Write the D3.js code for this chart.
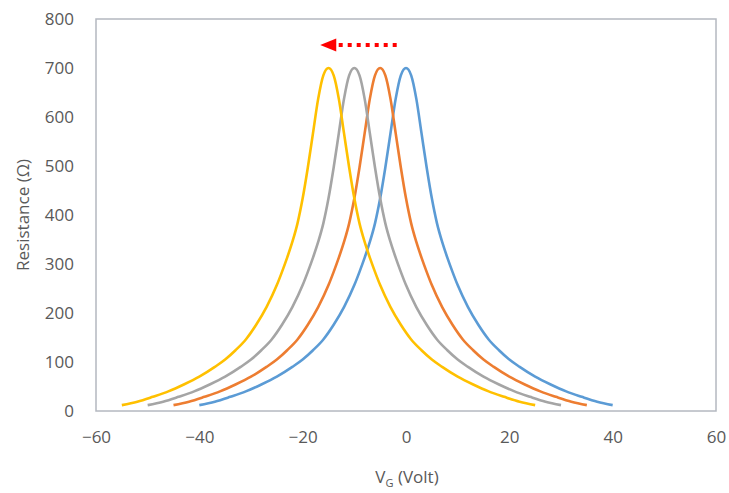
<!DOCTYPE html>
<html>
<head>
<meta charset="utf-8">
<script src="https://cdn.jsdelivr.net/npm/d3@7"></script>
<style>
  html, body { margin: 0; padding: 0; background: #fff; }
  svg { display: block; }
  text { font-family: "Open Sans", "Noto Sans", sans-serif; fill: #595959; }
</style>
</head>
<body>
<svg id="chart" width="729" height="493"></svg>
<script>
// ---- Data ----
const xTicks = [-60, -40, -20, 0, 20, 40, 60];
const yTicks = [0, 100, 200, 300, 400, 500, 600, 700, 800];

// Resistance (Ω) at each sampled gate voltage (same shape for each curve)
const resistance = [12, 19, 29, 40, 54, 70, 90, 105, 124, 146, 176, 212, 257, 284, 313, 345, 383, 434, 497, 567, 637, 685,
                    700,
                    685, 637, 567, 497, 434, 383, 345, 313, 284, 257, 212, 176, 146, 124, 105, 90, 70, 54, 40, 29, 19, 12];

// Gate voltage samples for each curve (Dirac point at 0, -5, -10, -15 V)
const vgBlue   = [-40, -37, -34, -31, -28, -25, -22, -20, -18, -16, -14, -12, -10, -9, -8, -7, -6, -5, -4, -3, -2, -1,
                  0, 1, 2, 3, 4, 5, 6, 7, 8, 9, 10, 12, 14, 16, 18, 20, 22, 25, 28, 31, 34, 37, 40];
const vgOrange = [-45, -42, -39, -36, -33, -30, -27, -25, -23, -21, -19, -17, -15, -14, -13, -12, -11, -10, -9, -8, -7, -6,
                  -5, -4, -3, -2, -1, 0, 1, 2, 3, 4, 5, 7, 9, 11, 13, 15, 17, 20, 23, 26, 29, 32, 35];
const vgGray   = [-50, -47, -44, -41, -38, -35, -32, -30, -28, -26, -24, -22, -20, -19, -18, -17, -16, -15, -14, -13, -12, -11,
                  -10, -9, -8, -7, -6, -5, -4, -3, -2, -1, 0, 2, 4, 6, 8, 10, 12, 15, 18, 21, 24, 27, 30];
const vgYellow = [-55, -52, -49, -46, -43, -40, -37, -35, -33, -31, -29, -27, -25, -24, -23, -22, -21, -20, -19, -18, -17, -16,
                  -15, -14, -13, -12, -11, -10, -9, -8, -7, -6, -5, -3, -1, 1, 3, 5, 7, 10, 13, 16, 19, 22, 25];

const seriesNames  = ["blue", "orange", "gray", "yellow"];
const seriesColors = ["#5B9BD5", "#ED7D31", "#A5A5A5", "#FFC000"];
const seriesVg     = [vgBlue, vgOrange, vgGray, vgYellow];

// Shift arrow annotation (data coordinates)
const arrowFrom = [-1.8, 747];
const arrowTo   = [-16.6, 747];

// ---- Drawing ----
(function () {
const svg = d3.select("#chart");
const mLeft = 96, mRight = 716, mTop = 19, mBottom = 411;

const x = d3.scaleLinear().domain([-60, 60]).range([mLeft, mRight]);
const y = d3.scaleLinear().domain([0, 800]).range([mBottom, mTop]);

// plot-area border
svg.append("rect")
  .attr("x", mLeft).attr("y", mTop)
  .attr("width", mRight - mLeft).attr("height", mBottom - mTop)
  .attr("fill", "none").attr("stroke", "#B4B8C0").attr("stroke-width", 1.5);

// axes (labels only, no tick marks)
const xAxis = d3.axisBottom(x).tickValues(xTicks).tickSize(0).tickPadding(20);
const gx = svg.append("g").attr("transform", `translate(0,${mBottom})`).call(xAxis);
gx.select(".domain").remove();
gx.selectAll("text").style("font-size", "17px").attr("fill", "#595959")
  .style("font-family", "'Open Sans', sans-serif");

const yAxis = d3.axisLeft(y).tickValues(yTicks).tickSize(0).tickPadding(22);
const gy = svg.append("g").attr("transform", `translate(${mLeft},0)`).call(yAxis);
gy.select(".domain").remove();
gy.selectAll("text").style("font-size", "17px").attr("fill", "#595959")
  .style("font-family", "'Open Sans', sans-serif");

// curves
const line = d3.line()
  .x(d => x(d[0]))
  .y(d => y(d[1]))
  .curve(d3.curveMonotoneX);

seriesVg.forEach((vg, i) => {
  const pts = vg.map((v, k) => [v, resistance[k]]);
  svg.append("path")
    .datum(pts)
    .attr("class", "series-" + seriesNames[i])
    .attr("fill", "none")
    .attr("stroke", seriesColors[i])
    .attr("stroke-width", 2.6)
    .attr("stroke-linecap", "butt")
    .attr("d", line);
});

// red dotted arrow
const ax0 = x(arrowFrom[0]), ay = y(arrowFrom[1]), ax1 = x(arrowTo[0]);
const headLen = 16, headHalf = 6.5;
svg.append("line")
  .attr("x1", ax0).attr("y1", ay)
  .attr("x2", ax1 + headLen).attr("y2", ay)
  .attr("stroke", "#FF0000").attr("stroke-width", 4)
  .attr("stroke-dasharray", "4,5");
svg.append("path")
  .attr("d", `M${ax1},${ay} L${ax1 + headLen},${ay - headHalf} L${ax1 + headLen},${ay + headHalf} Z`)
  .attr("fill", "#FF0000");

// axis titles
svg.append("text")
  .attr("transform", `translate(24,215) rotate(-90)`)
  .attr("text-anchor", "middle")
  .attr("dominant-baseline", "middle")
  .style("font-size", "17px")
  .text("Resistance (Ω)");

const xt = svg.append("text")
  .attr("x", 407).attr("y", 483)
  .attr("text-anchor", "middle")
  .style("font-size", "17px");
xt.append("tspan").text("V");
xt.append("tspan").attr("dy", 4).style("font-size", "11px").text("G");
xt.append("tspan").attr("dy", -4).text(" (Volt)");
})();
</script>
</body>
</html>
